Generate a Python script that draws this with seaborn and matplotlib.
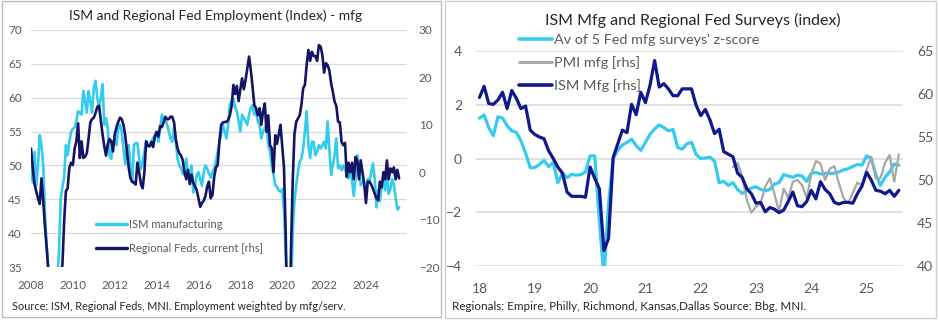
import numpy as np
import pandas as pd
import matplotlib
matplotlib.use("Agg")
import matplotlib.pyplot as plt
import seaborn as sns
from matplotlib.patches import Rectangle
from matplotlib.lines import Line2D

# ---------------- data: left panel (monthly from Jan 2008) ----------------
emp_start_year = 2008
ism_employment = [
    50, 47.5, 52, 47, 50, 54.5, 53, 50, 43, 38,
    34.5, 31, 29, 28, 30, 33, 37, 45, 46.8, 48.3,
    53, 51.5, 53.5, 55, 55.4, 55.6, 56.5, 58, 57.8, 57.5,
    61, 59.5, 57.8, 61, 59.5, 57.8, 61.5, 62.5, 60, 58.5,
    60, 62, 56, 57, 55.5, 51.5, 51, 53.5, 53.8, 53,
    55.5, 56, 55, 52.5, 50.2, 52.5, 53, 49.5, 47.5, 53,
    53.3, 53.3, 51, 49.5, 50.5, 52, 53.6, 53, 52.8, 53.5,
    54, 54.5, 55, 53.5, 55.5, 57.5, 56.5, 57, 56, 55,
    54, 53.5, 55.5, 53.5, 51, 50, 49.6, 48.8, 48.6, 51,
    48.5, 48.2, 50, 46, 47, 48.6, 49, 48, 47, 49,
    50, 49.5, 48.8, 48.2, 49, 49.5, 50.6, 52, 53.5, 54.6,
    56, 55, 54, 56, 59, 59.5, 59.9, 58.5, 58, 56.5,
    55, 57.5, 57, 56.5, 56, 57.5, 58.5, 58.9, 57.5, 58,
    56.5, 56, 54, 55, 55.5, 56, 53, 52.1, 50, 48.6,
    47.1, 46.8, 46.3, 46.1, 46.5, 43.5, 37, 32, 28, 30,
    40, 44.7, 47, 49, 50.5, 51, 52.5, 55, 58, 53,
    51.1, 53.5, 53.5, 51.5, 52, 53, 52.5, 53, 53.5, 52.5,
    56.5, 52.5, 48.6, 50, 51.5, 54, 49.6, 50, 49.3, 50,
    49.3, 48.8, 48.1, 49.6, 47.8, 45.5, 48.1, 51.5, 49.8, 47.1,
    47.6, 47.1, 46.2, 48, 47.6, 49, 50.3, 48.1, 43.8, 46.4,
    44.7, 47, 48.1, 46.3, 48.5, 45.8, 46.5, 48, 47.2, 45.2, 43.5, 43.8,
]
regional_feds = [
    5, 1, -2.5, -4, -5.5, -6.7, -1.3, -6, -11.5, -16,
    -21, -25, -30, -33, -35, -32, -27, -21, -19.6, -10.4,
    -4, -3.4, 1, 2, 1.5, 5, 6.5, 10.3, 3, 6.5,
    3, 3.3, 4, 7.1, 10.5, 11.2, 11.5, 12.5, 13.8, 14,
    11, 8, 5.5, 3.5, 6, 7, 6.5, 4.4, 8, 9.5,
    10.6, 11.5, 11.2, 10, 7.8, 4.5, 1, -1.3, -2, -2.2,
    -2.6, 2, 0, -2.5, -3.4, 0, 6.5, 5.5, 5.5, 6.4,
    5.3, 7.5, 8.5, 7.5, 9.7, 9.5, 10.5, 11.7, 11.2, 11.2,
    11.7, 11.7, 10.5, 7, 5, 4, 3.5, 2.5, 0, -1.5,
    0.5, -2.5, -0.5, -2.2, -3, -3.8, -5.5, -7.3, -6.5, -6,
    -5, -3, -2, -5.5, -4.8, -1, 1, 1.5, 6.5, 10,
    10.5, 10.6, 10.6, 11, 12, 14, 18.4, 16.5, 18.2, 15,
    17.5, 19.8, 17.5, 19.5, 21.9, 24.4, 21.5, 18, 14.2, 13.5,
    12, 13.5, 10, 12.8, 14.5, 8.5, 12, 5.7, 5, 0,
    7.8, 6, 8, 10, 5.5, 1, -13, -35, -40, -17,
    -2, 8, 10.6, 11.3, 12, 14.2, 17.7, 18.4, 22.6, 25.8,
    23.5, 25.4, 24.5, 24.5, 23.5, 26.8, 26.5, 24.8, 21, 23,
    22.6, 21.5, 18.8, 17, 14.9, 14, 10.7, 10.5, 6.4, 5.7,
    6.2, -1, 2, 0, 2, -1.5, 3.2, 2.5, -1.5, 2.5,
    0, -2.5, -6.5, -2, -2, -2.6, -3.5, -4.5, -5.5, -5.9,
    -2, -3.2, 0, -1.5, 2.5, -1.5, 0.8, 0, 1, -1.5, 0.5, -1.3,
]
left_year_ticks = [2008, 2010, 2012, 2014, 2016, 2018, 2020, 2022, 2024]

# ---------------- data: right panel (monthly from Jan 2018) ----------------
surv_start_year = 2018
fed_zscore = [
    1.5, 1.62, 1.15, 0.85, 1.55, 1.5, 1.22, 1.03, 0.97, 0.66, 0.2, -0.34,
    -0.34, -0.22, -0.07, -0.3, -0.15, -0.9, -0.55, -0.71, -0.59, -0.62, -0.6, -0.5,
    0.1, 0.1, -2.3, -4.4, -1.7, 0.0, 0.3, 0.5, 0.6, 0.72, 0.48, 0.3,
    0.6, 0.9, 1.1, 1.25, 1.15, 1.03, 1.08, 0.41, 0.35, 0.55, 0.6, 0.15,
    0.0, 0.02, 0.05, -0.1, -0.9, -0.85, -1.0, -0.9, -1.15, -1.3, -1.2, -1.1,
    -1.05, -1.15, -1.2, -1.15, -0.95, -0.9, -0.6, -0.65, -0.7, -0.62, -0.65, -0.85,
    -0.55, -0.52, -0.58, -0.55, -0.55, -0.55, -0.5, -0.42, -0.38, -0.3, -0.22, -0.25,
    0.1, 0.0, -0.6, -1.0, -0.7, -0.5, -0.2, -0.25,
]
ism_mfg = [
    59.6, 60.9, 58.9, 58.8, 59.3, 60.2, 58.3, 60.4, 59.5, 58.3, 58.6, 55.8,
    55.3, 55.0, 54.8, 53.4, 52.5, 51.5, 50.8, 48.6, 48.1, 48.1, 48.1, 48.0,
    51.5, 50.2, 49.0, 41.8, 43.2, 52.6, 54.2, 55.8, 55.5, 58.8, 57.6, 60.2,
    59.0, 61.0, 63.9, 60.8, 61.2, 60.6, 59.8, 59.8, 60.6, 60.6, 60.6, 58.7,
    57.5, 58.2, 57.0, 55.4, 55.9, 53.3, 53.0, 52.7, 50.8, 50.3, 49.0, 48.4,
    47.3, 47.4, 46.3, 46.8, 46.6, 46.2, 46.5, 47.5, 48.6, 47.0, 46.9, 47.5,
    48.8, 47.8, 49.8, 48.9, 48.4, 47.4, 47.2, 47.4, 47.4, 47.3, 48.4, 49.3,
    50.9, 50.0, 48.8, 48.7, 48.4, 48.8, 48.1, 48.8,
]
pmi_first_month = 55  # Aug 2022
pmi_mfg = [
    51.5, 52.0, 50.4, 47.7, 46.2,
    46.9, 47.3, 49.2, 50.2, 48.4, 46.3, 49.0, 47.9, 49.8, 50.0, 49.4, 47.9,
    50.7, 52.2, 51.9, 50.0, 51.3, 51.6, 49.6, 47.9, 47.3, 48.5, 49.7, 49.4,
    51.2, 52.7, 50.2, 50.2, 52.0, 52.9, 49.8, 53.0,
]
right_year_ticks = [2018, 2019, 2020, 2021, 2022, 2023, 2024, 2025]
right_year_labels = ["18", "19", "20", "21", "22", "23", "24", "25"]

# ---------------- styling ----------------
sns.set_theme(style="white")
plt.rcParams["font.family"] = ["Lato", "DejaVu Sans"]

LIGHT = "#33CCEE"
NAVY_L = "#141464"
NAVY_R = "#10188C"
GREY = "#A6A6A6"
TXT = "#595959"
GRID = "#D9D9D9"

W, H = 940, 323
fig = plt.figure(figsize=(W / 100, H / 100), dpi=100)


def ax_rect(x0, y0, x1, y1):
    return [x0 / W, 1 - y1 / H, (x1 - x0) / W, (y1 - y0) / H]


# panel borders
fig.patches.append(Rectangle((1.5 / W, 1 - 317 / H), 439 / W, 316 / H,
                             transform=fig.transFigure, fill=False,
                             edgecolor="#BFBFBF", linewidth=1.0))
fig.patches.append(Rectangle((445 / W, 1 - 318 / H), 491 / W, 317 / H,
                             transform=fig.transFigure, fill=False,
                             edgecolor="#D0D0D0", linewidth=1.0))

# ---------------- left panel ----------------
left_df = pd.DataFrame({
    "date": emp_start_year + np.arange(len(ism_employment)) / 12.0,
    "ism": ism_employment,
    "feds": regional_feds,
})
axL = fig.add_axes(ax_rect(31, 30, 407, 267))
axL2 = axL.twinx()
sns.lineplot(data=left_df, x="date", y="ism", ax=axL, color=LIGHT,
             linewidth=1.9, legend=False)
sns.lineplot(data=left_df, x="date", y="feds", ax=axL2, color=NAVY_L,
             linewidth=1.9, legend=False)
axL.set_xlim(2008, 2025.96)
axL.set_ylim(35, 70)
axL2.set_ylim(-20, 30)
axL.set_yticks(np.arange(35, 71, 5))
axL2.set_yticks(np.arange(-20, 31, 10))
axL.set_xticks(left_year_ticks)
axL.set_xticklabels([str(y) for y in left_year_ticks])
axL.grid(axis="y", color=GRID, linewidth=0.9)
axL.set_axisbelow(True)
for a in (axL, axL2):
    for s in a.spines.values():
        s.set_visible(False)
    a.set_xlabel("")
    a.set_ylabel("")
axL.tick_params(axis="y", length=0, pad=6.5, labelsize=8.5, labelcolor=TXT)
axL.tick_params(axis="x", length=0, pad=9.5, labelsize=8.3, labelcolor=TXT)
axL2.tick_params(axis="y", length=0, pad=8.5, labelsize=8.5, labelcolor=TXT)

hL = [Line2D([], [], color=LIGHT, linewidth=2.4),
      Line2D([], [], color=NAVY_L, linewidth=2.4)]
fig.legend(hL, ["ISM manufacturing", "Regional Feds, current [rhs]"],
           loc="upper left", bbox_to_anchor=(96 / W, 1 - 219 / H),
           frameon=False, fontsize=8, labelcolor=TXT, borderpad=0,
           borderaxespad=0, handlelength=2.8, handletextpad=0.15,
           labelspacing=1.15)

fig.text(216 / W, 1 - 16 / H, "ISM and Regional Fed Employment (Index) - mfg",
         ha="center", va="center", fontsize=10, color="#262626")
fig.text(12 / W, 1 - 307 / H,
         "Source: ISM, Regional Feds, MNI. Employment weighted by mfg/serv.",
         ha="left", va="center", fontsize=7.8, color="#262626")

# ---------------- right panel ----------------
months = np.arange(len(ism_mfg))
right_df = pd.DataFrame({
    "date": surv_start_year + months / 12.0,
    "fedz": fed_zscore,
    "ism": ism_mfg,
})
pmi_df = pd.DataFrame({
    "date": surv_start_year + (pmi_first_month + np.arange(len(pmi_mfg))) / 12.0,
    "pmi": pmi_mfg,
})
axR = fig.add_axes(ax_rect(476, 51, 903, 266))
axR2 = axR.twinx()
sns.lineplot(data=right_df, x="date", y="fedz", ax=axR, color=LIGHT,
             linewidth=2.3, legend=False)
sns.lineplot(data=pmi_df, x="date", y="pmi", ax=axR2, color=GREY,
             linewidth=1.6, legend=False)
sns.lineplot(data=right_df, x="date", y="ism", ax=axR2, color=NAVY_R,
             linewidth=2.3, legend=False)
axR.set_xlim(2018 - 0.76 / 12, 2018 + 91.9 / 12)
axR.set_ylim(-4, 4)
axR2.set_ylim(40, 65)
axR.set_yticks([-4, -2, 0, 2, 4])
axR2.set_yticks([40, 45, 50, 55, 60, 65])
axR.set_xticks(right_year_ticks)
axR.set_xticklabels(right_year_labels)
axR.grid(axis="y", color=GRID, linewidth=1.1)
axR.set_axisbelow(True)
for a in (axR, axR2):
    for s in a.spines.values():
        s.set_visible(False)
    a.set_xlabel("")
    a.set_ylabel("")
axR.tick_params(axis="y", length=0, pad=10, labelsize=10, labelcolor=TXT)
axR.tick_params(axis="x", length=0, pad=12, labelsize=10, labelcolor=TXT)
axR2.tick_params(axis="y", length=0, pad=10, labelsize=10, labelcolor=TXT)
for a in (axR, axR2, axL, axL2):
    a.patch.set_visible(False)

hR = [Line2D([], [], color=LIGHT, linewidth=2.6),
      Line2D([], [], color=GREY, linewidth=2.0),
      Line2D([], [], color=NAVY_R, linewidth=2.6)]
fig.legend(hR, ["Av of 5 Fed mfg surveys' z-score", "PMI mfg [rhs]", "ISM Mfg [rhs]"],
           loc="upper left", bbox_to_anchor=(519 / W, 1 - 34 / H),
           frameon=False, fontsize=10.4, labelcolor=TXT, borderpad=0,
           borderaxespad=0, handlelength=2.3, handletextpad=0.15,
           labelspacing=0.7)

fig.text(693 / W, 1 - 20 / H, "ISM Mfg and Regional Fed Surveys (index)",
         ha="center", va="center", fontsize=11.5, color="#262626")
fig.text(452 / W, 1 - 307 / H,
         "Regionals: Empire, Philly, Richmond, Kansas,Dallas Source: Bbg, MNI.",
         ha="left", va="center", fontsize=8.4, color="#262626")

fig.savefig("out.png", dpi=100)
